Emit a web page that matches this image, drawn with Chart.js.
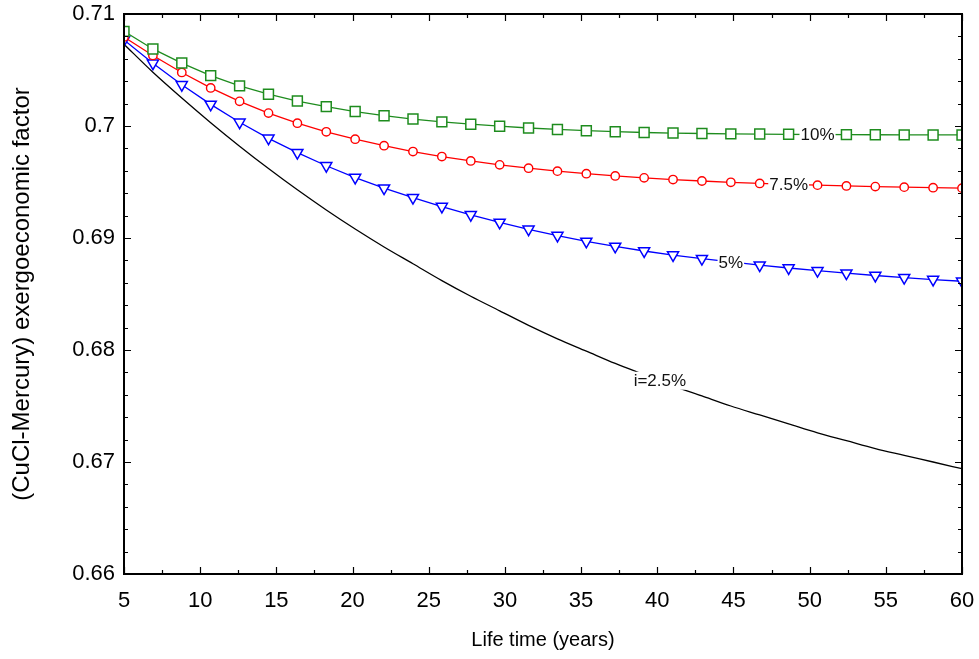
<!DOCTYPE html>
<html>
<head>
<meta charset="utf-8">
<script src="https://cdn.jsdelivr.net/npm/chart.js@4.4.1/dist/chart.umd.min.js"></script>
<style>
  html, body { margin: 0; padding: 0; background: #fff; }
  #wrap { width: 979px; height: 659px; }
</style>
</head>
<body>
<div id="wrap"><canvas id="c" width="979" height="659"></canvas></div>
<script>
// Plant life time (years)
const lifeYears = [5, 6.897, 8.793, 10.69, 12.586, 14.483, 16.379, 18.276, 20.172, 22.069,
  23.966, 25.862, 27.759, 29.655, 31.552, 33.448, 35.345, 37.241, 39.138, 41.034,
  42.931, 44.828, 46.724, 48.621, 50.517, 52.414, 54.31, 56.207, 58.103, 60];

// Exergoeconomic factor for each interest rate
const factorI10 = [0.70845, 0.70688, 0.70562, 0.70450, 0.70358, 0.70284, 0.70223, 0.70173, 0.70129, 0.70092,
  0.70062, 0.70037, 0.70016, 0.69998, 0.69982, 0.69969, 0.69958, 0.69949, 0.69942, 0.69937,
  0.69933, 0.69930, 0.69928, 0.69926, 0.69924, 0.69923, 0.69922, 0.69921, 0.69920, 0.69920];
const factorI75 = [0.70795, 0.70630, 0.70478, 0.70340, 0.70220, 0.70115, 0.70025, 0.69948, 0.69882, 0.69824,
  0.69772, 0.69727, 0.69688, 0.69653, 0.69623, 0.69597, 0.69574, 0.69554, 0.69537, 0.69522,
  0.69509, 0.69497, 0.69487, 0.69479, 0.69472, 0.69465, 0.69459, 0.69454, 0.69449, 0.69445];
const factorI5 = [0.70768, 0.70560, 0.70368, 0.70193, 0.70033, 0.69890, 0.69762, 0.69645, 0.69540, 0.69445,
  0.69360, 0.69281, 0.69207, 0.69139, 0.69078, 0.69022, 0.68970, 0.68925, 0.68884, 0.68848,
  0.68816, 0.68786, 0.68758, 0.68732, 0.68708, 0.68686, 0.68665, 0.68646, 0.68629, 0.68614];
const factorI25 = [0.7073, 0.7048, 0.7025, 0.7003, 0.6982, 0.6962, 0.6943, 0.6925, 0.6908, 0.6892,
  0.6877, 0.6862, 0.6848, 0.6835, 0.6822, 0.6810, 0.6799, 0.6788, 0.6778, 0.6768,
  0.6759, 0.6750, 0.6742, 0.6734, 0.6726, 0.6719, 0.6712, 0.6706, 0.6700, 0.6694];

// Axis ticks
const xTicks = [5, 10, 15, 20, 25, 30, 35, 40, 45, 50, 55, 60];
const yTicks = [0.66, 0.67, 0.68, 0.69, 0.70, 0.71];

// Curve labels written on the lines: text, dataset index, x position (years)
const curveLabels = [
  { text: '10%', dataset: 0, x: lifeYears[24] },
  { text: '7.5%', dataset: 1, x: lifeYears[23] },
  { text: '5%', dataset: 2, x: lifeYears[21] },
  { text: 'i=2.5%', dataset: 3, x: 40.17 }
];

const FONT = '"Liberation Sans", Arial, Helvetica, sans-serif';
Chart.defaults.font.family = FONT;
Chart.defaults.color = '#000';

const toPoints = arr => arr.map((v, i) => ({ x: lifeYears[i], y: v }));

function valueAt(data, x) {
  for (let i = 0; i < data.length - 1; i++) {
    if (x >= data[i].x && x <= data[i + 1].x) {
      const t = (x - data[i].x) / (data[i + 1].x - data[i].x);
      return data[i].y + t * (data[i + 1].y - data[i].y);
    }
  }
  return data[data.length - 1].y;
}

// Inline curve labels on a white backing that hides the line beneath
const curveLabelPlugin = {
  id: 'curveLabels',
  afterDatasetsDraw(chart) {
    const { ctx, scales: { x, y } } = chart;
    ctx.save();
    ctx.font = '17px ' + FONT;
    ctx.textAlign = 'center';
    ctx.textBaseline = 'middle';
    curveLabels.forEach(l => {
      const data = chart.data.datasets[l.dataset].data;
      const px = x.getPixelForValue(l.x);
      const py = y.getPixelForValue(valueAt(data, l.x));
      const w = ctx.measureText(l.text).width;
      ctx.fillStyle = '#fff';
      ctx.fillRect(px - w / 2 - 1, py - 9, w + 2, 18);
      ctx.fillStyle = '#111';
      ctx.fillText(l.text, px, py + 1);
    });
    ctx.restore();
  }
};

// Boxed frame with inward major and minor ticks on all four sides
const framePlugin = {
  id: 'frame',
  afterDraw(chart) {
    const { ctx, chartArea: a, scales: { x, y } } = chart;
    ctx.save();
    ctx.strokeStyle = '#000';
    ctx.lineWidth = 1.2;
    ctx.beginPath();
    for (let v = 5; v <= 60.001; v += 2.5) {
      const px = Math.round(x.getPixelForValue(v)) + 0.5;
      const major = xTicks.some(t => Math.abs(t - v) < 1e-6);
      const len = major ? 7 : 4;
      ctx.moveTo(px, a.bottom); ctx.lineTo(px, a.bottom - len);
      ctx.moveTo(px, a.top); ctx.lineTo(px, a.top + len);
    }
    for (let k = 0; k <= 25; k++) {
      const v = 0.66 + k * 0.002;
      const py = Math.round(y.getPixelForValue(v)) + 0.5;
      const major = k % 5 === 0;
      const len = major ? 7 : 4;
      ctx.moveTo(a.left, py); ctx.lineTo(a.left + len, py);
      ctx.moveTo(a.right, py); ctx.lineTo(a.right - len, py);
    }
    ctx.stroke();
    ctx.lineWidth = 2;
    ctx.strokeRect(a.left, a.top, a.right - a.left, a.bottom - a.top);
    ctx.restore();
  }
};

new Chart(document.getElementById('c'), {
  type: 'line',
  data: {
    datasets: [
      {
        label: '10%', data: toPoints(factorI10),
        borderColor: '#1e8c1e', borderWidth: 1.3, pointStyle: 'rect',
        pointRadius: 7, pointBorderWidth: 1.5, pointBorderColor: '#1e8c1e',
        pointBackgroundColor: '#fff', tension: 0, clip: 0
      },
      {
        label: '7.5%', data: toPoints(factorI75),
        borderColor: '#ff0000', borderWidth: 1.3, pointStyle: 'circle',
        pointRadius: 4.2, pointBorderWidth: 1.4, pointBorderColor: '#ff0000',
        pointBackgroundColor: '#fff', tension: 0, clip: 0
      },
      {
        label: '5%', data: toPoints(factorI5),
        borderColor: '#0000ff', borderWidth: 1.3, pointStyle: 'triangle', pointRotation: 180,
        pointRadius: 6.4, pointBorderWidth: 1.5, pointBorderColor: '#0000ff',
        pointBackgroundColor: '#fff', tension: 0, clip: 0
      },
      {
        label: 'i=2.5%', data: toPoints(factorI25),
        borderColor: '#000', borderWidth: 1.3, pointRadius: 0,
        cubicInterpolationMode: 'monotone', clip: 0
      }
    ]
  },
  options: {
    responsive: false,
    animation: false,
    devicePixelRatio: 1,
    layout: { padding: { top: 14, right: 17, left: 0, bottom: 0 } },
    plugins: { legend: { display: false }, tooltip: { enabled: false } },
    scales: {
      x: {
        type: 'linear', min: 5, max: 60,
        afterBuildTicks: s => { s.ticks = xTicks.map(v => ({ value: v })); },
        afterFit: s => { s.height = 85; s.paddingLeft = 0; s.paddingRight = 0; },
        grid: { display: false, drawTicks: false },
        border: { display: false },
        ticks: { font: { size: 22 }, color: '#000', padding: 14, maxRotation: 0,
          callback: v => String(v) },
        title: { display: true, text: 'Life time (years)', font: { size: 20 }, color: '#000',
          padding: { top: 0, bottom: 7 } }
      },
      y: {
        type: 'linear', min: 0.66, max: 0.71,
        afterBuildTicks: s => { s.ticks = yTicks.map(v => ({ value: v })); },
        afterFit: s => { s.width = 124; s.paddingTop = 0; s.paddingBottom = 0; },
        grid: { display: false, drawTicks: false },
        border: { display: false },
        ticks: { font: { size: 22 }, color: '#000', padding: 9,
          callback: v => String(Number(v.toFixed(4))) },
        title: { display: true, text: '(CuCl-Mercury) exergoeconomic factor', font: { size: 24 },
          color: '#000', padding: { top: 8, bottom: 0 } }
      }
    }
  },
  plugins: [curveLabelPlugin, framePlugin]
});
</script>
</body>
</html>
